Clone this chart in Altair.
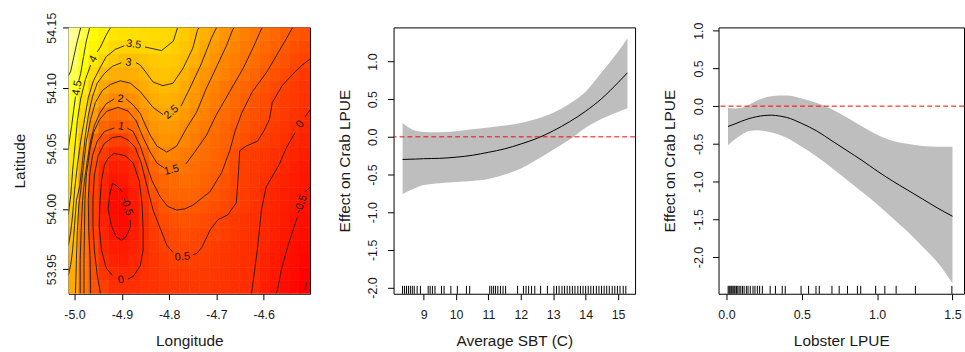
import altair as alt
import pandas as pd

FONT = "Liberation Sans"

# ---------------- Panel 1: fitted surface (lon/lat) ----------------
grid_lon = [-5.0020, -4.9807, -4.9594, -4.9382, -4.9169, -4.8956, -4.8744, -4.8531,
            -4.8318, -4.8105, -4.7893, -4.7680, -4.7467, -4.7255, -4.7042, -4.6829,
            -4.6617, -4.6404, -4.6191, -4.5978, -4.5766, -4.5553, -4.5340, -4.5128]
grid_lat = [54.1447, 54.1337, 54.1226, 54.1116, 54.1006, 54.0896, 54.0785, 54.0675,
            54.0565, 54.0454, 54.0344, 54.0234, 54.0124, 54.0013, 53.9903, 53.9793,
            53.9682, 53.9572, 53.9462, 53.9352]
grid_z = [
    [5.15, 4.75, 4.35, 4.07, 3.90, 3.80, 3.75, 3.70, 3.65, 3.60, 3.52, 3.29, 3.05, 2.78, 2.50, 2.20, 1.94, 1.76, 1.58, 1.41, 1.24, 1.07, 0.90, 0.80],
    [5.05, 4.58, 4.22, 3.91, 3.64, 3.48, 3.48, 3.50, 3.55, 3.55, 3.41, 3.20, 2.97, 2.62, 2.31, 2.03, 1.84, 1.66, 1.48, 1.30, 1.11, 0.94, 0.77, 0.60],
    [4.98, 4.45, 3.94, 3.52, 3.25, 3.03, 3.05, 3.15, 3.30, 3.32, 3.25, 3.05, 2.76, 2.44, 2.15, 1.91, 1.72, 1.54, 1.35, 1.16, 0.97, 0.81, 0.62, 0.47],
    [4.80, 4.28, 3.66, 3.00, 2.74, 2.71, 2.73, 2.92, 3.12, 3.15, 3.10, 2.82, 2.49, 2.22, 1.98, 1.79, 1.60, 1.40, 1.20, 1.00, 0.81, 0.62, 0.43, 0.26],
    [4.65, 4.00, 3.25, 2.56, 2.35, 2.33, 2.44, 2.67, 2.89, 2.98, 2.92, 2.67, 2.37, 2.06, 1.81, 1.57, 1.37, 1.20, 1.02, 0.83, 0.62, 0.45, 0.32, 0.19],
    [4.60, 3.78, 2.77, 2.26, 1.90, 1.95, 2.10, 2.42, 2.65, 2.75, 2.70, 2.48, 2.20, 1.93, 1.72, 1.50, 1.28, 1.07, 0.86, 0.67, 0.48, 0.36, 0.24, 0.12],
    [4.45, 3.62, 2.38, 1.55, 1.34, 1.35, 1.67, 2.14, 2.42, 2.50, 2.50, 2.28, 2.02, 1.78, 1.54, 1.33, 1.13, 0.94, 0.77, 0.59, 0.44, 0.30, 0.17, 0.03],
    [4.30, 3.41, 2.00, 1.23, 1.00, 1.00, 1.20, 1.83, 2.22, 2.33, 2.28, 2.06, 1.84, 1.62, 1.42, 1.23, 1.04, 0.87, 0.69, 0.52, 0.36, 0.21, 0.05, -0.10],
    [4.15, 3.14, 1.32, 0.71, 0.42, 0.41, 0.82, 1.47, 2.00, 2.18, 2.10, 1.90, 1.68, 1.47, 1.30, 1.13, 0.96, 0.75, 0.55, 0.39, 0.24, 0.09, -0.05, -0.19],
    [4.05, 2.60, 0.88, 0.30, -0.02, 0.00, 0.37, 1.00, 1.65, 1.85, 1.80, 1.65, 1.52, 1.37, 1.21, 1.06, 0.74, 0.45, 0.33, 0.22, 0.10, -0.02, -0.16, -0.30],
    [3.92, 2.44, 0.72, 0.02, -0.25, -0.25, 0.00, 0.66, 1.20, 1.50, 1.50, 1.52, 1.36, 1.24, 1.12, 1.00, 0.64, 0.42, 0.29, 0.16, 0.03, -0.11, -0.25, -0.40],
    [3.72, 2.10, 0.52, -0.10, -0.45, -0.40, -0.12, 0.38, 1.05, 1.20, 1.30, 1.35, 1.32, 1.16, 1.05, 0.82, 0.58, 0.40, 0.24, 0.08, -0.06, -0.19, -0.31, -0.44],
    [3.55, 1.90, 0.45, -0.18, -0.60, -0.65, -0.30, 0.20, 0.78, 1.10, 1.20, 1.22, 1.15, 1.04, 0.89, 0.72, 0.54, 0.37, 0.18, 0.00, -0.13, -0.25, -0.38, -0.50],
    [3.40, 1.70, 0.45, -0.25, -0.65, -0.72, -0.38, 0.10, 0.55, 0.86, 0.97, 0.97, 0.98, 0.85, 0.72, 0.58, 0.48, 0.30, 0.12, -0.04, -0.17, -0.30, -0.43, -0.56],
    [3.20, 1.60, 0.45, -0.20, -0.60, -0.70, -0.40, 0.04, 0.40, 0.63, 0.78, 0.82, 0.78, 0.66, 0.53, 0.42, 0.30, 0.18, 0.07, -0.06, -0.20, -0.34, -0.48, -0.60],
    [3.00, 1.65, 0.48, -0.15, -0.48, -0.60, -0.30, 0.02, 0.30, 0.52, 0.64, 0.68, 0.62, 0.55, 0.49, 0.38, 0.26, 0.16, 0.04, -0.09, -0.24, -0.40, -0.55, -0.66],
    [2.90, 1.55, 0.60, -0.08, -0.30, -0.35, -0.20, 0.02, 0.25, 0.42, 0.53, 0.56, 0.54, 0.47, 0.36, 0.26, 0.17, 0.09, 0.02, -0.12, -0.30, -0.46, -0.60, -0.72],
    [2.75, 1.55, 0.68, 0.03, -0.20, -0.25, -0.12, 0.05, 0.20, 0.32, 0.40, 0.43, 0.43, 0.38, 0.30, 0.22, 0.14, 0.07, 0.01, -0.16, -0.36, -0.52, -0.65, -0.78],
    [2.65, 1.55, 0.75, 0.20, -0.03, -0.07, -0.02, 0.10, 0.18, 0.25, 0.30, 0.33, 0.33, 0.30, 0.25, 0.18, 0.11, 0.05, -0.01, -0.20, -0.40, -0.56, -0.70, -0.85],
    [2.60, 1.55, 0.82, 0.40, 0.10, 0.05, 0.08, 0.13, 0.17, 0.21, 0.25, 0.27, 0.27, 0.25, 0.20, 0.14, 0.08, 0.03, -0.03, -0.25, -0.45, -0.60, -0.78, -0.98],
]

contour_lines = {
    "5a": [(-4.987, 54.150), (-4.994, 54.139), (-5.002, 54.125), (-5.008, 54.114), (-5.013, 54.110)],
    "4.5a": [(-4.968, 54.150), (-4.975, 54.139), (-4.981, 54.126), (-4.987, 54.112), (-4.991, 54.106)],
    "4.5b": [(-4.998, 54.093), (-5.002, 54.081), (-5.006, 54.069), (-5.011, 54.056), (-5.013, 54.050)],
    "4a": [(-4.924, 54.150), (-4.933, 54.144), (-4.945, 54.134), (-4.952, 54.130)],
    "4b": [(-4.966, 54.119), (-4.977, 54.107), (-4.987, 54.091), (-4.994, 54.073), (-4.999, 54.052),
           (-5.004, 54.032), (-5.008, 54.011), (-5.012, 53.999), (-5.013, 53.995)],
    "3.5a": [(-4.851, 54.134), (-4.816, 54.131), (-4.791, 54.139), (-4.783, 54.149), (-4.782, 54.150)],
    "3.5b": [(-4.895, 54.135), (-4.914, 54.132), (-4.933, 54.126), (-4.947, 54.116), (-4.960, 54.106),
             (-4.971, 54.092), (-4.979, 54.074), (-4.987, 54.056), (-4.994, 54.036), (-5.000, 54.015),
             (-5.004, 53.995), (-5.008, 53.981), (-5.013, 53.970)],
    "3a": [(-4.870, 54.121), (-4.861, 54.119), (-4.849, 54.113), (-4.834, 54.105), (-4.813, 54.102),
           (-4.792, 54.104), (-4.771, 54.116), (-4.750, 54.133), (-4.740, 54.148), (-4.737, 54.150)],
    "3b": [(-4.901, 54.121), (-4.920, 54.118), (-4.937, 54.112), (-4.952, 54.104), (-4.962, 54.093),
           (-4.971, 54.077), (-4.977, 54.061), (-4.983, 54.040), (-4.989, 54.019), (-4.996, 54.007),
           (-5.000, 53.986), (-5.004, 53.966), (-5.008, 53.954), (-5.013, 53.945)],
    "2.5a": [(-4.998, 53.930), (-4.996, 53.958), (-4.994, 53.982), (-4.991, 54.003), (-4.987, 54.015),
             (-4.981, 54.036), (-4.975, 54.056), (-4.966, 54.074), (-4.956, 54.088), (-4.941, 54.098),
             (-4.924, 54.103), (-4.903, 54.106), (-4.882, 54.104), (-4.861, 54.097), (-4.834, 54.084),
             (-4.813, 54.078)],
    "2.5b": [(-4.775, 54.085), (-4.756, 54.100), (-4.732, 54.120), (-4.711, 54.141), (-4.700, 54.150)],
    "2a": [(-4.988, 53.930), (-4.988, 53.958), (-4.986, 53.982), (-4.983, 54.007), (-4.979, 54.023),
           (-4.973, 54.040), (-4.966, 54.056), (-4.958, 54.069), (-4.947, 54.079), (-4.933, 54.087),
           (-4.916, 54.091)],
    "2b": [(-4.891, 54.091), (-4.876, 54.086), (-4.861, 54.079), (-4.851, 54.070), (-4.840, 54.061),
           (-4.826, 54.052), (-4.805, 54.047), (-4.784, 54.052), (-4.763, 54.067), (-4.742, 54.080),
           (-4.721, 54.100), (-4.698, 54.119), (-4.679, 54.135), (-4.666, 54.148), (-4.663, 54.150)],
    "1.5a": [(-4.980, 53.930), (-4.980, 53.958), (-4.979, 53.982), (-4.978, 54.008), (-4.975, 54.028),
             (-4.968, 54.048), (-4.960, 54.063), (-4.947, 54.074), (-4.931, 54.081), (-4.908, 54.084),
             (-4.887, 54.081), (-4.870, 54.073), (-4.855, 54.059), (-4.840, 54.047), (-4.826, 54.038),
             (-4.811, 54.034)],
    "1.5b": [(-4.765, 54.037), (-4.746, 54.047), (-4.721, 54.061), (-4.700, 54.078), (-4.672, 54.097),
             (-4.644, 54.116), (-4.623, 54.133), (-4.606, 54.148), (-4.603, 54.150)],
    "1a": [(-4.966, 53.930), (-4.967, 53.958), (-4.970, 53.982), (-4.971, 54.008), (-4.968, 54.028),
           (-4.962, 54.044), (-4.952, 54.056), (-4.937, 54.064), (-4.916, 54.067)],
    "1b": [(-4.889, 54.067), (-4.876, 54.064), (-4.861, 54.052), (-4.849, 54.038), (-4.836, 54.023),
           (-4.819, 54.010), (-4.803, 54.002), (-4.784, 53.999), (-4.767, 54.000), (-4.750, 54.003),
           (-4.714, 54.014), (-4.689, 54.030), (-4.672, 54.048), (-4.660, 54.065), (-4.647, 54.079),
           (-4.624, 54.097), (-4.594, 54.113), (-4.573, 54.127), (-4.552, 54.141), (-4.542, 54.148),
           (-4.539, 54.150)],
    "0.5a": [(-4.945, 53.930), (-4.952, 53.945), (-4.958, 53.966), (-4.961, 53.986), (-4.961, 54.008),
             (-4.958, 54.028), (-4.950, 54.044), (-4.937, 54.054), (-4.920, 54.059), (-4.903, 54.060),
             (-4.887, 54.057), (-4.872, 54.051), (-4.859, 54.038), (-4.847, 54.019), (-4.834, 53.999),
             (-4.819, 53.984), (-4.805, 53.970), (-4.792, 53.964)],
    "0.5b": [(-4.750, 53.962), (-4.742, 53.963), (-4.731, 53.968), (-4.714, 53.982), (-4.697, 53.991),
             (-4.676, 53.995), (-4.658, 54.005), (-4.653, 54.032), (-4.651, 54.048), (-4.637, 54.052),
             (-4.613, 54.056), (-4.599, 54.065), (-4.588, 54.074), (-4.582, 54.088), (-4.561, 54.102),
             (-4.540, 54.111), (-4.519, 54.119), (-4.502, 54.124)],
    "0loop": [(-4.887, 53.942), (-4.876, 53.944), (-4.861, 53.953), (-4.855, 53.966), (-4.855, 53.982),
              (-4.857, 54.003), (-4.863, 54.023), (-4.876, 54.038), (-4.893, 54.044), (-4.916, 54.046),
              (-4.929, 54.042), (-4.937, 54.036), (-4.943, 54.023), (-4.946, 54.007), (-4.948, 53.986),
              (-4.943, 53.966), (-4.933, 53.951), (-4.920, 53.945)],
    "0a": [(-4.502, 54.082), (-4.513, 54.076)],
    "0b": [(-4.534, 54.063), (-4.553, 54.050), (-4.567, 54.037), (-4.595, 54.018), (-4.605, 53.999),
           (-4.613, 53.968), (-4.624, 53.935), (-4.626, 53.930)],
    "m0.5e": [(-4.882, 53.991), (-4.882, 53.985), (-4.891, 53.977), (-4.901, 53.974), (-4.912, 53.977),
              (-4.922, 53.986), (-4.929, 54.000), (-4.926, 54.011), (-4.920, 54.021), (-4.910, 54.019),
              (-4.899, 54.014)],
    "m0.5a": [(-4.502, 54.018), (-4.513, 54.014)],
    "m0.5b": [(-4.529, 53.993), (-4.536, 53.985), (-4.550, 53.968), (-4.563, 53.949), (-4.571, 53.933),
              (-4.574, 53.930)],
    "m1": [(-4.513, 53.933), (-4.509, 53.939)],
}

label_text = ["3.5", "4", "3", "4.5", "2", "2.5", "1", "1.5", "0.5", "0", "-0.5", "0", "-0.5"]
label_lon = [-4.875, -4.960, -4.886, -4.994, -4.903, -4.795, -4.902, -4.795, -4.772, -4.902, -4.890, -4.523, -4.521]
label_lat = [54.136, 54.124, 54.121, 54.100, 54.091, 54.080, 54.068, 54.032, 53.960, 53.941, 54.002, 54.070, 54.004]
label_angle = [8, 300, 8, 280, 5, 320, 10, 345, 355, 350, 72, 305, 290]

lon_ticks = [-5.0, -4.9, -4.8, -4.7, -4.6]
lat_ticks = [53.95, 54.00, 54.05, 54.10, 54.15]

# ---------------- Panel 2: Average SBT smooth ----------------
sbt_x = [8.35, 8.75, 9.0, 9.5, 10.0, 10.5, 11.0, 11.5, 12.0, 12.5, 13.0, 13.5, 14.0, 14.5, 15.0, 15.29]
sbt_fit = [-0.30, -0.295, -0.29, -0.285, -0.27, -0.245, -0.205, -0.16, -0.095, -0.02, 0.08, 0.20, 0.34, 0.51, 0.72, 0.85]
sbt_upper = [0.18, 0.08, 0.065, 0.06, 0.075, 0.10, 0.125, 0.15, 0.185, 0.24, 0.32, 0.44, 0.60, 0.86, 1.13, 1.31]
sbt_lower = [-0.76, -0.68, -0.64, -0.615, -0.60, -0.585, -0.56, -0.50, -0.42, -0.30, -0.17, -0.04, 0.12, 0.24, 0.33, 0.38]
sbt_rug = [8.35, 8.41, 8.47, 8.53, 8.59, 8.65, 8.71, 8.80, 8.90, 9.14, 9.20, 9.27, 9.35, 9.55, 9.63,
           9.84, 10.04, 10.32, 10.42, 11.04, 11.10, 11.16, 11.22, 11.29, 11.37, 11.45, 11.53, 11.90,
           12.08, 12.16, 12.24, 12.33, 12.43, 12.61, 12.82, 13.02, 13.10, 13.18, 13.27, 13.35, 13.43,
           13.51, 13.59, 13.67, 13.76, 13.84, 13.92, 14.00, 14.08, 14.16, 14.24, 14.33, 14.41, 14.49,
           14.57, 14.65, 14.73, 14.82, 14.90, 14.98, 15.06, 15.16, 15.24]
sbt_ticks = [9, 10, 11, 12, 13, 14, 15]

# ---------------- Panel 3: Lobster LPUE smooth ----------------
lob_x = [0.01, 0.05, 0.10, 0.15, 0.20, 0.25, 0.30, 0.35, 0.40, 0.50, 0.60, 0.70, 0.80, 0.90, 1.00, 1.10, 1.20, 1.30, 1.40, 1.50]
lob_fit = [-0.27, -0.24, -0.20, -0.165, -0.14, -0.125, -0.12, -0.13, -0.15, -0.23, -0.33, -0.46, -0.59, -0.72, -0.86, -0.99, -1.11, -1.23, -1.35, -1.46]
lob_upper = [-0.02, -0.03, -0.02, 0.02, 0.07, 0.11, 0.13, 0.14, 0.14, 0.10, 0.04, -0.04, -0.15, -0.27, -0.38, -0.46, -0.50, -0.53, -0.54, -0.54]
lob_lower = [-0.52, -0.45, -0.38, -0.33, -0.32, -0.33, -0.35, -0.38, -0.42, -0.54, -0.67, -0.82, -0.98, -1.14, -1.30, -1.48, -1.66, -1.86, -2.07, -2.35]
lob_rug = [0.011, 0.018, 0.024, 0.031, 0.037, 0.044, 0.051, 0.057, 0.066, 0.075, 0.084, 0.095, 0.106,
           0.117, 0.132, 0.143, 0.158, 0.176, 0.189, 0.205, 0.220, 0.238, 0.290, 0.325, 0.370, 0.390,
           0.495, 0.545, 0.594, 0.616, 0.700, 0.748, 0.803, 0.869, 0.891, 0.990, 1.051, 1.126, 1.254, 1.496]
lob_ticks = [0.0, 0.5, 1.0, 1.5]
effect_ticks = [-2.0, -1.5, -1.0, -0.5, 0.0, 0.5, 1.0]

# ---------------- build tables ----------------
dlon = grid_lon[1] - grid_lon[0]
dlat = grid_lat[0] - grid_lat[1]
cells = []
for j, la in enumerate(grid_lat):
    for i, lo in enumerate(grid_lon):
        cells.append({"lon0": lo - dlon / 2, "lon1": lo + dlon / 2,
                      "lat0": la - dlat / 2, "lat1": la + dlat / 2, "z": grid_z[j][i]})
cells = pd.DataFrame(cells)

crows = []
for seg, pts in contour_lines.items():
    for k, (lo, la) in enumerate(pts):
        crows.append({"seg": seg, "k": k, "lon": lo, "lat": la})
cdf = pd.DataFrame(crows)
ldf = pd.DataFrame({"t": label_text, "lon": label_lon, "lat": label_lat, "a": label_angle})

W1, W2, W3, H = 243, 243, 247, 268
MINUS = "replace(datum.label, '\u2212', '-')"

AX = dict(domain=False, grid=False, ticks=True, tickSize=6, tickColor="#000", tickWidth=1,
          labelFont=FONT, labelFontSize=12.5, labelColor="#1a1a1a",
          titleFont=FONT, titleFontSize=15.5, titleFontWeight="normal", titleColor="#1a1a1a",
          labelFlush=False, labelOverlap=False, labelExpr=MINUS)


def y_axis(title, values, fmt, pad):
    return alt.Axis(title=title, values=values, format=fmt,
                    labelAngle=270, labelAlign="center", labelBaseline="middle",
                    labelPadding=pad, titleX=-49, titleY=H / 2, titleAngle=270,
                    titleAlign="center", titleBaseline="middle", **AX)


def x_axis(title, values, fmt, w):
    return alt.Axis(title=title, values=values, format=fmt,
                    labelAlign="center", labelBaseline="middle", labelPadding=15,
                    titleX=w / 2, titleY=47.5, titleAlign="center", titleBaseline="middle", **AX)


lon_scale = alt.Scale(domain=[-5.0126, -4.5021], nice=False, zero=False)
lat_scale = alt.Scale(domain=[53.9297, 54.1502], nice=False, zero=False)
heat_scale = alt.Scale(domain=[-0.9, 4.4, 5.6], range=["#FF0000", "#FFFF00", "#FFFFF0"],
                       interpolate="rgb", clamp=True)

heat = alt.Chart(cells).mark_rect(strokeWidth=0.6, clip=True).encode(
    x=alt.X("lon0:Q", scale=lon_scale, axis=x_axis("Longitude", lon_ticks, ".1f", W1)),
    x2="lon1:Q",
    y=alt.Y("lat0:Q", scale=lat_scale, axis=y_axis("Latitude", lat_ticks, ".2f", 11)),
    y2="lat1:Q",
    color=alt.Color("z:Q", scale=heat_scale, legend=None),
    stroke=alt.Stroke("z:Q", scale=heat_scale, legend=None),
)
clines = alt.Chart(cdf).mark_line(color="#1a1a1a", strokeWidth=0.9, clip=True).encode(
    x="lon:Q", y="lat:Q", detail="seg:N", order="k:Q")
clabels = alt.Chart(ldf).mark_text(font=FONT, fontSize=11, color="#111").encode(
    x="lon:Q", y="lat:Q", text="t:N", angle=alt.Angle("a:Q", scale=None))
p1 = alt.layer(heat, clines, clabels).properties(width=W1, height=H)


def smooth_panel(xs, fit, up, lo, rug, xdom, ydom, xticks, xfmt, xtitle, w, ypad):
    d = pd.DataFrame({"x": xs, "fit": fit, "up": up, "lo": lo})
    r = pd.DataFrame({"x": rug})
    xs_ = alt.Scale(domain=xdom, nice=False, zero=False)
    ys_ = alt.Scale(domain=ydom, nice=False, zero=False)
    band = alt.Chart(d).mark_area(color="#BEBEBE", opacity=1, interpolate="monotone").encode(
        x=alt.X("x:Q", scale=xs_, axis=x_axis(xtitle, xticks, xfmt, w)),
        y=alt.Y("up:Q", scale=ys_, axis=y_axis("Effect on Crab LPUE", effect_ticks, ".1f", ypad)),
        y2="lo:Q")
    line = alt.Chart(d).mark_line(color="#000", strokeWidth=1, interpolate="monotone").encode(
        x="x:Q", y="fit:Q")
    rugm = alt.Chart(r).mark_rule(color="#000", strokeWidth=1).encode(
        x="x:Q", y=alt.value(H), y2=alt.value(H - 8))
    zero = alt.Chart(pd.DataFrame({"z": [0]})).mark_rule(
        color="#FF0000", strokeDash=[5, 3], strokeWidth=1).encode(y="z:Q")
    return alt.layer(band, line, rugm, zero).properties(width=w, height=H)


p2 = smooth_panel(sbt_x, sbt_fit, sbt_upper, sbt_lower, sbt_rug, [8.071, 15.525], [-2.083, 1.4525],
                  sbt_ticks, "d", "Average SBT (C)", W2, 15)
p3 = smooth_panel(lob_x, lob_fit, lob_upper, lob_lower, lob_rug, [-0.0528, 1.5765], [-2.4875, 1.0435],
                  lob_ticks, ".1f", "Lobster LPUE", W3, 14)

chart = alt.hconcat(p1, p2, p3, spacing=84, bounds="flush").properties(
    padding={"left": 12, "top": 10.5, "right": 0, "bottom": 0},
    background="white",
).configure_view(stroke="#000", strokeWidth=1)

chart.save("out.html", embed_options={"renderer": "svg", "actions": False})
